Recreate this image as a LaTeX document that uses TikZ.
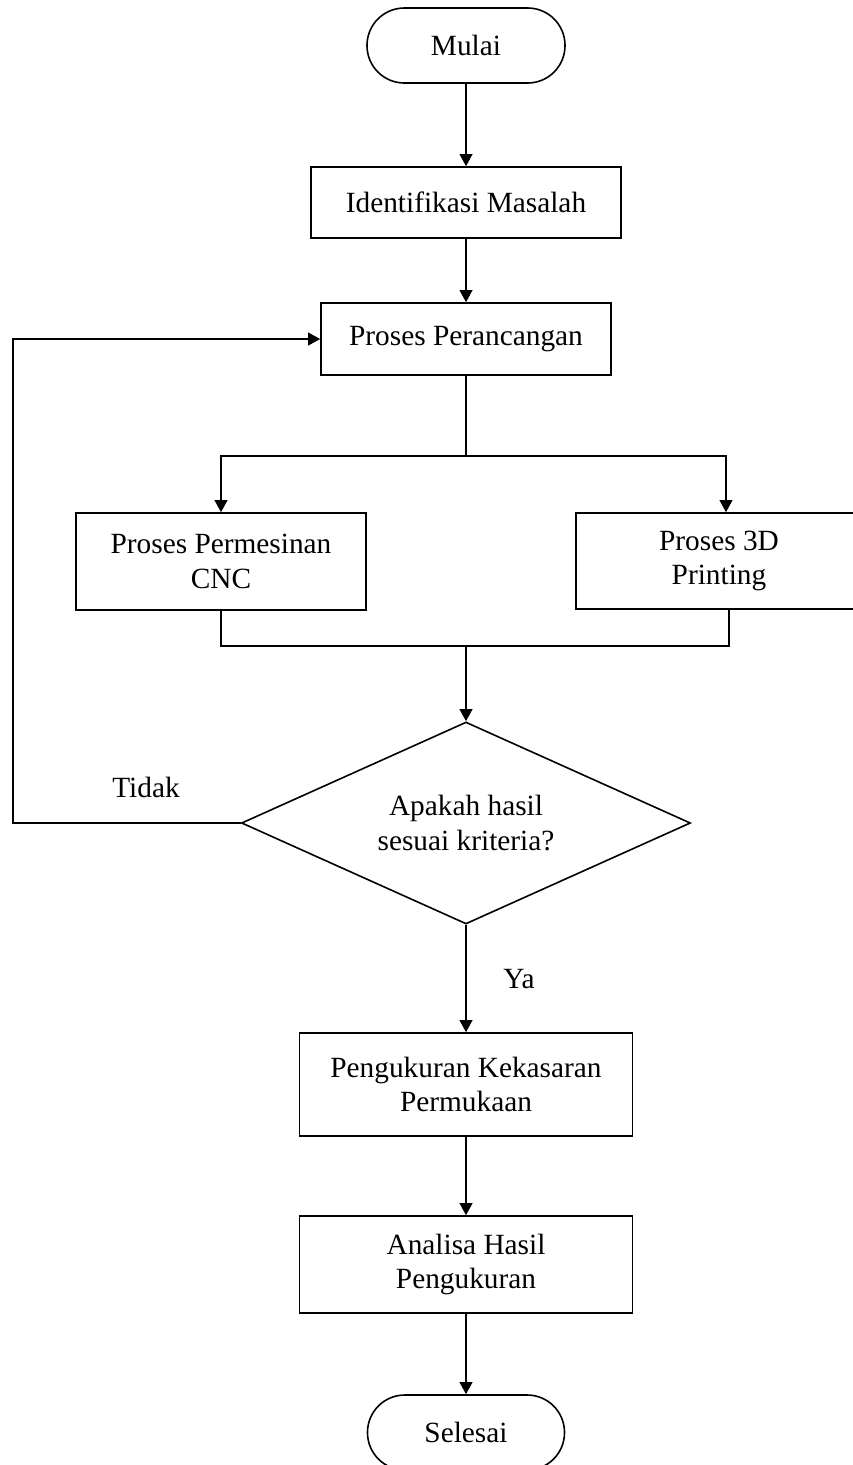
\documentclass[tikz,border=0pt]{standalone}
\usepackage{fontspec}
\setmainfont{Liberation Serif}
\usetikzlibrary{shapes.geometric,arrows.meta}
\begin{document}
\begin{tikzpicture}[x=0.75pt,y=-0.75pt,
  font=\fontsize{22}{26}\selectfont,
  every node/.style={align=center, line width=1.2pt, inner sep=0pt},
  box/.style={draw, rectangle},
  term/.style={draw, rectangle, rounded corners=28pt},
  dec/.style={draw, diamond, shape aspect=2.22},
  arr/.style={-{Triangle[length=9pt,width=9.5pt]}, line width=1.2pt},
  ln/.style={line width=1.2pt}]
\useasboundingbox (0,0) rectangle (853,1465);
\clip (0,0) rectangle (853,1465);
\node[term, minimum width=148.5pt, minimum height=56.25pt] (mulai) at (466,45.5) {Mulai};
\node[box, minimum width=232.5pt, minimum height=53.25pt] (ident) at (466,202.5) {Identifikasi Masalah};
\node[box, minimum width=217.5pt, minimum height=54pt] (peran) at (466,339) {Proses Perancangan};
\node[box, minimum width=217.5pt, minimum height=72.75pt] (cnc) at (221,561.5) {Proses Permesinan\\CNC};
\node[box, minimum width=214.5pt, minimum height=72pt] (tdp) at (719,561) {Proses 3D\\Printing};
\node[dec, minimum width=336.75pt, minimum height=151.5pt] (dec) at (466,823) {Apakah hasil\\sesuai kriteria?};
\node[box, minimum width=249.75pt, minimum height=77.25pt] (ukur) at (466,1084.5) {Pengukuran Kekasaran\\Permukaan};
\node[box, minimum width=249.75pt, minimum height=72.75pt] (analisa) at (466,1264.5) {Analisa Hasil\\Pengukuran};
\node[term, minimum width=147.75pt, minimum height=56.25pt] (selesai) at (466,1432.5) {Selesai};
\node (tidak) at (146,787) {Tidak};
\node (ya) at (519,979) {Ya};
\coordinate (br) at (466,456);
\coordinate (r1) at (726,456);
\coordinate (m) at (466,646);
\coordinate (r2) at (729,646);
\coordinate (lb) at (13,823);
\coordinate (lt) at (13,339);
\draw[arr] (mulai) -- (ident);
\draw[arr] (ident) -- (peran);
\draw[ln] (peran) -- (br);
\draw[arr] (br) -| (cnc);
\draw[arr] (br) -- (r1) -- (r1 |- tdp.north);
\draw[ln] (cnc.south) |- (m);
\draw[ln] (r2 |- tdp.south) -- (r2) -- (m);
\draw[arr] (m) -- (dec.north);
\draw[arr] (dec.west) -- (lb) -- (lt) -- (peran.west);
\draw[arr] (dec.south) -- (ukur);
\draw[arr] (ukur) -- (analisa);
\draw[arr] (analisa) -- (selesai);
\end{tikzpicture}
\end{document}
